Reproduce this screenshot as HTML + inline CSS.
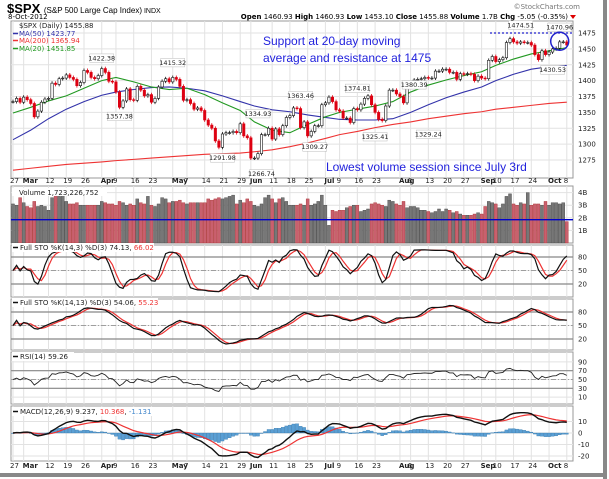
<!DOCTYPE html>
<html><head><meta charset="utf-8"><style>
html,body{margin:0;padding:0;background:#fff;}
svg{display:block;font-family:"DejaVu Sans","Liberation Sans",sans-serif;}
</style></head><body>
<svg id="c" width="609" height="479" viewBox="0 0 609 479" xmlns="http://www.w3.org/2000/svg">
<rect x="0" y="0" width="609" height="479" fill="#fff"/>
<rect x="603" y="0" width="4" height="479" fill="#888"/>
<rect x="0" y="473" width="607" height="4" fill="#888"/>
<text x="7" y="13" font-size="13" font-weight="bold" font-family="Liberation Sans, sans-serif">$SPX <tspan font-size="8" font-weight="normal">(S&amp;P 500 Large Cap Index)</tspan><tspan font-size="7" font-weight="normal"> INDX</tspan></text>
<text x="8" y="19" font-size="7">8-Oct-2012</text>
<text x="580" y="9" font-size="7" fill="#777" text-anchor="end">©StockCharts.com</text>
<text x="568" y="19" font-size="7" text-anchor="end"><tspan font-weight="bold">Open</tspan> 1460.93 <tspan font-weight="bold">High</tspan> 1460.93 <tspan font-weight="bold">Low</tspan> 1453.10 <tspan font-weight="bold">Close</tspan> 1455.88 <tspan font-weight="bold">Volume</tspan> 1.7B <tspan font-weight="bold">Chg</tspan> -5.05 (-0.35%)</text>
<polygon points="570,15 576,15 573,19" fill="#d00"/>
<g id="g"></g>
</svg>
<script>
const weekCounts=[5,5,5,5,5,4,5,5,5,5,5,5,5,4,5,5,5,5,4,5,5,5,5,5,5,5,5,4,5,5,5,5,1];
const closes=[1367,1372,1366,1374,1370, 1364,1343,1352,1366,1371, 1372,1396,1394,1403,1404, 1409,1405,1402,1392,1397, 1416,1413,1405,1403,1408,
1419,1413,1399,1398, 1382,1358,1368,1387,1370, 1369,1391,1385,1376,1378, 1366,1372,1390,1399,1403, 1398,1405,1402,1391,1369,
1370,1364,1355,1357,1353, 1338,1330,1325,1305,1295, 1316,1318,1318,1320,1318, 1332,1313,1310,1278, 1278,1285,1315,1315,1325,
1308,1324,1315,1329,1342, 1345,1357,1356,1326,1335, 1313,1320,1329,1329,1362, 1365,1374,1367,1354, 1352,1341,1341,1334,1356,
1354,1363,1372,1376,1362, 1350,1339,1337,1360,1385, 1385,1379,1375,1365,1391, 1394,1401,1402,1403,1405, 1404,1404,1415,1415,1418,
1418,1413,1413,1402,1411, 1410,1411,1410,1400,1407, 1404,1403,1432,1438, 1430,1433,1436,1460,1466, 1461,1459,1461,1460,1460,
1456,1441,1433,1447,1441, 1445,1450,1451,1461,1461, 1456];
const volumes=[3.1,3.0,3.6,3.2,2.9, 2.8,3.3,2.9,3.0,2.9, 2.6,3.6,3.8,3.7,4.0, 3.3,3.1,3.1,3.2,3.0, 3.0,3.0,3.0,3.0,3.0,
3.3,3.2,3.1,3.1, 3.0,3.3,3.2,3.0,3.1, 3.0,3.5,3.2,3.1,3.7, 3.0,2.9,3.1,3.6,3.5, 3.2,3.3,3.3,3.4,3.2,
3.1,3.2,3.2,3.2,3.2, 3.2,3.5,3.4,3.5,3.6, 3.5,3.6,3.7,3.8,3.1, 3.4,3.2,3.5,3.3, 3.0,2.9,3.1,3.6,3.8,
3.5,3.2,3.5,3.6,3.3, 3.0,3.0,3.0,3.1,3.0, 3.5,3.0,3.1,3.3,3.8, 3.0,1.4,2.6,2.5, 2.6,2.6,2.8,2.9,3.0,
3.0,2.5,2.6,2.7,3.1, 3.2,3.1,3.0,2.9,3.4, 3.3,3.1,3.0,3.3,2.8, 2.9,2.9,2.8,2.6,2.6, 2.5,2.4,2.5,2.7,2.5,
2.7,2.6,2.4,2.5,2.3, 2.2,2.2,2.2,2.3,2.4, 2.3,2.9,3.3,3.2, 3.1,2.8,3.1,3.7,3.9, 3.1,3.0,3.2,3.1,4.0,
3.0,3.1,3.1,3.0,3.3, 3.0,3.2,3.2,3.1,3.2, 1.7];
const ma50=[1307,1322,1340,1355,1367,1377,1382,1386,1389,1390,1388,1384,1376,1367,1360,1354,1351,1346,1342,1339,1338,1338,1340,1350,1362,1373,1382,1390,1400,1410,1418,1422,1424];
const ma200=[1259,1262,1265,1268,1270,1272,1274,1276,1278,1280,1282,1284,1285,1286,1288,1291,1296,1302,1309,1315,1320,1326,1331,1335,1340,1344,1348,1351,1355,1358,1361,1364,1366];
const ma20=[1349,1358,1368,1376,1388,1400,1405,1398,1390,1386,1388,1378,1365,1353,1335,1322,1318,1331,1343,1350,1355,1360,1367,1382,1393,1401,1408,1414,1424,1434,1442,1447,1452];
const axisLabels=["27","Mar","12","19","26","Apr","9","16","23","May","7","14","21","29","Jun","11","18","25","Jul","9","16","23","Aug","6","13","20","27","Sep","10","17","24","Oct","8"];
const labelWeeks=[0,0,2,3,4,5,6,7,8,9,10,11,12,13,13,15,16,17,18,19,20,21,22,23,24,25,26,27,28,29,30,31,32];
const labelDayOffsets=[0,3,0,0,0,0,0,0,0,1,0,0,0,0,3,0,0,0,0,0,0,0,2,0,0,0,0,0,0,0,0,0,0];
const priceTicks=[1275,1300,1325,1350,1375,1400,1425,1450,1475];
const volTicks=[1,2,3,4];
const stoTicks=[20,50,80];
const rsiTicks=[10,30,50,70,90];
const macdTicks=[-20,-10,0,10];
const peakLabels=["1422.38","1415.32","1357.38","1334.93","1291.98","1266.74","1363.46","1309.27","1374.81","1325.41","1380.39","1329.24","1474.51","1430.53","1470.96"];
const peakValues=[1422.38,1415.32,1357.38,1334.93,1291.98,1266.74,1363.46,1309.27,1374.81,1325.41,1380.39,1329.24,1474.51,1430.53,1470.96];
const peakDays=[25,45,30,69,59,70,81,85,97,102,113,117,143,152,154];
const peakAbove=[1,1,0,1,0,0,1,0,1,0,1,0,1,0,1];

const NS="http://www.w3.org/2000/svg";
const G=document.getElementById('g');
function mk(tag,attrs,parent){const e=document.createElementNS(NS,tag);for(const k in attrs)e.setAttribute(k,attrs[k]);(parent||G).appendChild(e);return e;}
const X0=11,X1=573;
const xDay=i=>13+i*3.55;
const weekStart=[];let acc=0;weekCounts.forEach(c=>{weekStart.push(acc);acc+=c;});
const yP=p=>33+(1475-p)*0.635;
const yV=v=>243-v*12.6;
const yS1=s=>293-s*0.45;
const yS2=s=>348-s*0.45;
const yR=r=>401.5-r*0.44;
const yM=m=>433-m*1.15;
const panels=[["price-panel",21,178],["volume-panel",186,243],["sto1-panel",245,297],["sto2-panel",299,350],["rsi-panel",352,404],["macd-panel",406,461]];

panels.forEach(([nm,t,b])=>{
  let r=mk('rect',{x:X0,y:t,width:X1-X0,height:b-t,fill:'#fff',stroke:'#999','stroke-width':1});
  
  axisLabels.forEach((l,k)=>{const x=xDay(weekStart[labelWeeks[k]]+labelDayOffsets[k]);
    let ln=mk('line',{x1:x,x2:x,y1:t,y2:b,stroke:'#e2e2e2','stroke-width':1});
    });
});
function hTicks(ticks,yf,fmt,name,gridColor){
  ticks.forEach(v=>{const y=yf(v);
    let ln=mk('line',{x1:X0,x2:X1,y1:y,y2:y,stroke:gridColor||'#e2e2e2','stroke-width':1});
    
    let t=mk('text',{x:578,y:y+2.5,'font-size':7,fill:'#222'});t.textContent=fmt(v);
    });
}
hTicks(priceTicks,yP,v=>v,'price');
hTicks(volTicks,yV,v=>v+'B','volume');
hTicks(stoTicks,yS1,v=>v,'sto1');
hTicks(stoTicks,yS2,v=>v,'sto2');
hTicks(rsiTicks,yR,v=>v,'rsi');
hTicks(macdTicks,yM,v=>v,'macd');
function refLine(y,dash,name){let l=mk('line',{x1:X0,x2:X1,y1:y,y2:y,stroke:'#888','stroke-width':dash?0.8:1.2});if(dash)l.setAttribute('stroke-dasharray','5,2,1,2');}
[yS1,yS2].forEach((f,k)=>{refLine(f(80),0,'sto'+(k+1)+'-overbought');refLine(f(20),0,'sto'+(k+1)+'-oversold');refLine(f(50),1,'sto'+(k+1)+'-midline');});
refLine(yR(70),0,'rsi-overbought');refLine(yR(30),0,'rsi-oversold');refLine(yR(50),1,'rsi-midline');

const bold=new Set(["Mar","Apr","May","Jun","Jul","Aug","Sep","Oct"]);
[183,468].forEach((y,ai)=>{axisLabels.forEach((l,k)=>{const x=xDay(weekStart[labelWeeks[k]]+labelDayOffsets[k]);
  let t=mk('text',{x:bold.has(l)?x-1:x-3,y:y,'font-size':7,'font-weight':bold.has(l)?'bold':'normal',fill:'#222'});t.textContent=l;
  });});

const opens=closes.map((c,i)=>i?closes[i-1]:c);
const highs=closes.map((c,i)=>Math.max(c,opens[i])+3);
const lows=closes.map((c,i)=>Math.min(c,opens[i])-3);

function wline(arr,color,name){const pts=arr.map((v,w)=>xDay(weekStart[w])+','+yP(v)).join(' ');
  let p=mk('polyline',{points:pts,fill:'none',stroke:color,'stroke-width':1.1});}
wline(ma200,'#e33','ma200-line');wline(ma50,'#33a','ma50-line');wline(ma20,'#292','ma20-line');

closes.forEach((c,i)=>{const x=xDay(i);const up=c>=opens[i];const col=(i&&c<closes[i-1])?'#d01':'#111';
  let w=mk('line',{x1:x,x2:x,y1:yP(highs[i]),y2:yP(lows[i]),stroke:col,'stroke-width':0.8});
  
  const t=yP(Math.max(c,opens[i])),b=yP(Math.min(c,opens[i]));
  let r=mk('rect',{x:x-1.2,y:t,width:2.4,height:Math.max(0.8,b-t),fill:up?'#fff':col,stroke:col,'stroke-width':0.6});
  });

peakLabels.forEach((l,k)=>{const x=xDay(peakDays[k]);const y=peakAbove[k]?yP(peakValues[k])-6:yP(peakValues[k])+11;
  let r=mk('rect',{x:x-12,y:y-6.5,width:24,height:8.5,fill:'#fff',stroke:'#bbb','stroke-width':0.5});
  
  let t=mk('text',{x:x,y:y,'font-size':6.5,'text-anchor':'middle',fill:'#222'});t.textContent=l;
  });

let rl=mk('line',{x1:490,x2:X1,y1:yP(1475),y2:yP(1475),stroke:'#22c','stroke-width':1.3,'stroke-dasharray':'2,2'});

let ci=mk('ellipse',{cx:xDay(154),cy:yP(1462),rx:9,ry:9,fill:'none',stroke:'#22c','stroke-width':1.5});


[["Support at 20-day moving",263,45],["average and resistance at 1475",263,62],["Lowest volume session since July 3rd",326,171]].forEach(([s,x,y])=>{
  let t=mk('text',{x:x,y:y,'font-size':12,fill:'#22d','font-family':'Liberation Sans, sans-serif'});t.textContent=s;
  });

function legend(y,txt,color,name,mark){if(mark){let m=mk('line',{x1:13,x2:18,y1:y-2.5,y2:y-2.5,stroke:color,'stroke-width':1.5});}
  let t=mk('text',{x:19,y:y,'font-size':7,fill:color});t.innerHTML=txt;return t;}
legend(28,'$SPX (Daily) 1455.88','#222','legend-spx',0);
legend(36,'MA(50) 1423.77','#33a','legend-ma50',1);
legend(43,'MA(200) 1365.94','#e33','legend-ma200',1);
legend(51,'MA(20) 1451.85','#292','legend-ma20',1);

closes.forEach((c,i)=>{const x=xDay(i);const down=i&&c<closes[i-1];
  let r=mk('rect',{x:x-1.5,y:yV(volumes[i]),width:3,height:243-yV(volumes[i]),fill:down?'#c9606e':'#777',stroke:down?'#a33':'#444','stroke-width':0.4});
  });
let vl=mk('line',{x1:X0,x2:X1,y1:yV(1.85),y2:yV(1.85),stroke:'#00c','stroke-width':1.3});

let vt=mk('rect',{x:12,y:188,width:95,height:8,fill:'#fff'});
legend(195,'Volume 1,723,226,752','#222','legend-volume',0);

const sma=(a,n)=>a.map((v,i)=>{const s=a.slice(Math.max(0,i-n+1),i+1);return s.reduce((p,q)=>p+q,0)/s.length;});
const raw=closes.map((c,i)=>{const hh=Math.max(...highs.slice(Math.max(0,i-13),i+1)),ll=Math.min(...lows.slice(Math.max(0,i-13),i+1));return hh>ll?(c-ll)/(hh-ll)*100:50;});
const k1=sma(raw,3),d1=sma(k1,3),k2=sma(raw,13),d2=sma(k2,3);
function ema(a,n){const k=2/(n+1);let e=a[0];return a.map(v=>e=v*k+e*(1-k));}
const e26=ema(closes,26);
const macd=ema(closes,12).map((v,i)=>v-e26[i]);const sig=ema(macd,9);const hist=macd.map((v,i)=>v-sig[i]);
let ag=3,al=3;const rsi=closes.map((c,i)=>{if(!i)return 50;const ch=c-closes[i-1];const g=Math.max(ch,0),l=Math.max(-ch,0);
  ag=(ag*13+g)/14;al=(al*13+l)/14;return al?100-100/(1+ag/al):100;});
function line(arr,yf,color,name,w){let p=mk('polyline',{points:arr.map((v,i)=>xDay(i)+','+yf(v)).join(' '),fill:'none',stroke:color,'stroke-width':w||1.2});}
hist.forEach((h,i)=>{const y0=yM(0),y1=yM(h);let r=mk('rect',{x:xDay(i)-1.6,y:Math.min(y0,y1),width:3.2,height:Math.max(0.5,Math.abs(y1-y0)),fill:'#5a9fd4',stroke:'#2a6fa4','stroke-width':0.3});
  });
line(d1,yS1,'#e33','sto1-d-line');line(k1,yS1,'#111','sto1-k-line');
line(d2,yS2,'#e33','sto2-d-line');line(k2,yS2,'#111','sto2-k-line');
line(rsi,yR,'#222','rsi-line',0.9);
line(sig,yM,'#e33','macd-signal-line');line(macd,yM,'#111','macd-line',1.4);

function hdr(y,html,name,w){let b=mk('rect',{x:12,y:y-7,width:w,height:9,fill:'#fff'});
  let m=mk('line',{x1:13,x2:18,y1:y-2.5,y2:y-2.5,stroke:'#111','stroke-width':1.5});
  let t=mk('text',{x:20,y:y,'font-size':7,fill:'#222'});t.innerHTML=html;}
hdr(250,'Full STO %K(14,3) %D(3) 74.13, <tspan fill="#e33">66.02</tspan>','sto1-legend',142);
hdr(305,'Full STO %K(14,13) %D(3) 54.06, <tspan fill="#e33">55.23</tspan>','sto2-legend',146);
hdr(359,'RSI(14) 59.26','rsi-legend',62);
hdr(414,'MACD(12,26,9) 9.237, <tspan fill="#e33">10.368</tspan>, <tspan fill="#48c">-1.131</tspan>','macd-legend',142);
</script>
</body></html>
